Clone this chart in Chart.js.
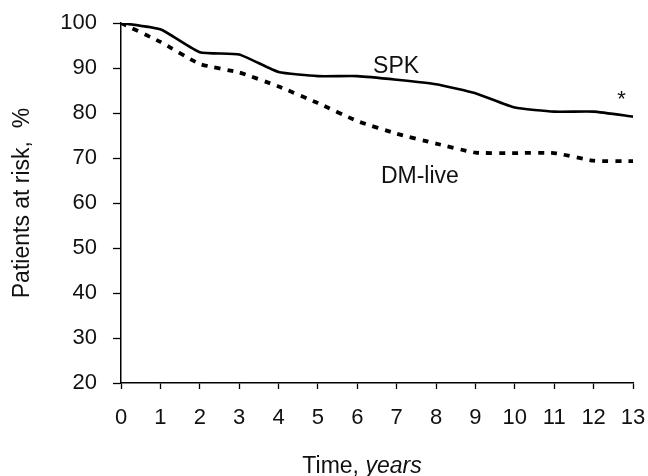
<!DOCTYPE html>
<html>
<head>
<meta charset="utf-8">
<script src="https://cdn.jsdelivr.net/npm/chart.js@4"></script>
<style>
  html, body { margin: 0; padding: 0; background: #fff; }
  #wrap { width: 648px; height: 476px; }
</style>
</head>
<body>
<div id="wrap"><canvas id="risk" width="648" height="476"></canvas></div>
<script>
// Patients at risk over time

var years = [0, 1, 2, 3, 4, 5, 6, 7, 8, 9, 10, 11, 12, 13];
var spk = [100, 98.6, 93.5, 93.0, 89.1, 88.2, 88.2, 87.4, 86.4, 84.4, 81.2, 80.3, 80.3, 79.2];
var dmLive = [100, 95.8, 90.9, 89.0, 85.9, 82.2, 78.2, 75.4, 73.2, 71.2, 71.1, 71.1, 69.4, 69.3];
var yTicks = [20, 30, 40, 50, 60, 70, 80, 90, 100];

var FONT = "'Liberation Sans', Arial, Helvetica, sans-serif";

function points(vals) {
  return years.map(function (t, i) { return { x: t, y: vals[i] }; });
}

// text placed on the plot, in data units
var notes = [
  { text: 'SPK', x: 6.4, y: 90.2, size: 23 },
  { text: 'DM-live', x: 6.6, y: 65.8, size: 23 },
  { text: '*', x: 12.6, y: 82.9, size: 22 }
];

var notesPlugin = {
  id: 'notes',
  afterDraw: function (chart) {
    var ctx = chart.ctx;
    var xs = chart.scales.x, ys = chart.scales.y;
    ctx.save();
    ctx.fillStyle = '#111';
    ctx.textBaseline = 'middle';
    ctx.textAlign = 'left';
    notes.forEach(function (n) {
      ctx.font = n.size + 'px ' + FONT;
      ctx.fillText(n.text, xs.getPixelForValue(n.x), ys.getPixelForValue(n.y));
    });

    // x axis title, "years" in italic
    var a = 'Time, ', b = 'years';
    ctx.font = '23px ' + FONT;
    var wa = ctx.measureText(a).width;
    ctx.font = 'italic 23px ' + FONT;
    var wb = ctx.measureText(b).width;
    var cx = (chart.chartArea.left + chart.chartArea.right) / 2 - 15;
    var x0 = cx - (wa + wb) / 2;
    var y0 = chart.chartArea.bottom + 84;
    ctx.font = '23px ' + FONT;
    ctx.fillText(a, x0, y0);
    ctx.font = 'italic 23px ' + FONT;
    ctx.fillText(b, x0 + wa, y0);
    ctx.restore();
  }
};

var ctx = document.getElementById('risk').getContext('2d');
new Chart(ctx, {
  type: 'line',
  data: {
    datasets: [
      {
        label: 'SPK',
        data: points(spk),
        borderColor: '#000',
        borderWidth: 2.6,
        pointRadius: 0,
        tension: 0.15,
        fill: false
      },
      {
        label: 'DM-live',
        data: points(dmLive),
        borderColor: '#000',
        borderWidth: 3.8,
        borderDash: [6, 7],
        borderCapStyle: 'butt',
        pointRadius: 0,
        tension: 0.15,
        fill: false
      }
    ]
  },
  options: {
    responsive: false,
    animation: false,
    layout: { padding: { top: 23, right: 15, left: 0, bottom: 0 } },
    plugins: {
      legend: { display: false },
      tooltip: { enabled: false }
    },
    scales: {
      x: {
        type: 'linear',
        min: 0,
        max: 13,
        afterFit: function (s) {
          s.height = 93;
          s.paddingLeft = 0;
          s.paddingRight = 0;
        },
        ticks: {
          stepSize: 1,
          color: '#111',
          padding: 16,
          font: { family: FONT, size: 22 }
        },
        grid: {
          drawOnChartArea: false,
          drawTicks: true,
          tickLength: 6,
          tickWidth: 1.3,
          tickColor: '#000'
        },
        border: { color: '#000', width: 1.5 }
      },
      y: {
        min: 20,
        max: 100,
        afterFit: function (s) {
          s.width = 121;
          s.paddingTop = 0;
          s.paddingBottom = 0;
        },
        afterBuildTicks: function (s) {
          s.ticks = yTicks.map(function (v) { return { value: v }; });
        },
        ticks: {
          color: '#111',
          padding: 16,
          font: { family: FONT, size: 22 }
        },
        grid: {
          drawOnChartArea: false,
          drawTicks: true,
          tickLength: 8,
          tickWidth: 1.3,
          tickColor: '#000'
        },
        border: { color: '#000', width: 1.5 },
        title: {
          display: true,
          text: 'Patients at risk,  %',
          color: '#111',
          padding: { top: 9, bottom: 0 },
          font: { family: FONT, size: 23 }
        }
      }
    }
  },
  plugins: [notesPlugin]
});
</script>
</body>
</html>
